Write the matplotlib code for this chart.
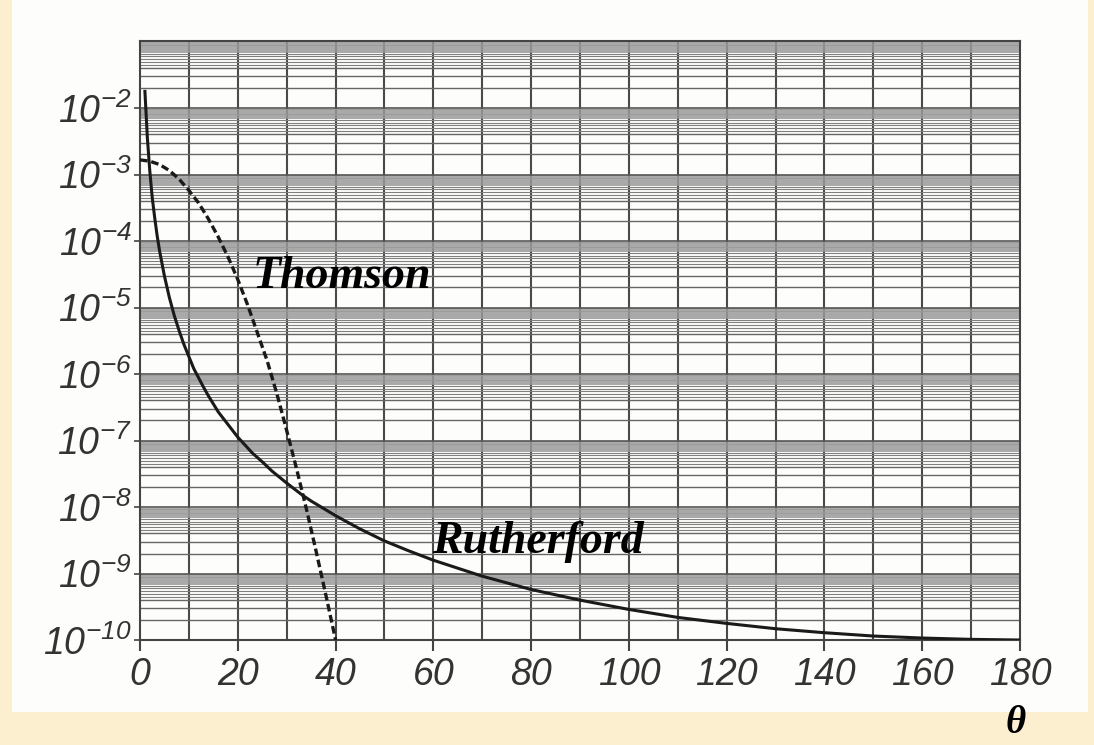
import numpy as np
import matplotlib.pyplot as plt
from matplotlib.patches import Rectangle

# Rutherford curve (angle in degrees, log10 of value)
theta_r = [1, 1.5, 2, 2.5, 3, 3.5, 4, 5, 6, 7, 8, 9, 10, 11, 12, 13, 14, 15,
           16, 18, 20, 23, 25, 27, 30, 33, 35, 40, 45, 50, 55, 60,
           70, 80, 90, 100, 110, 120, 130, 140, 150, 160, 170, 180]
logv_r = [-1.75, -2.45, -2.95, -3.35, -3.65, -3.92, -4.15, -4.53, -4.85, -5.12,
          -5.35, -5.56, -5.74, -5.92, -6.06, -6.20, -6.33, -6.45,
          -6.57, -6.76, -6.95, -7.19, -7.32, -7.46, -7.64, -7.81, -7.91, -8.13,
          -8.33, -8.51, -8.66, -8.80,
          -9.04, -9.24, -9.40, -9.54, -9.66, -9.75, -9.83, -9.89, -9.94, -9.97,
          -9.99, -10.0]

# Thomson curve (dashed)
theta_t = [0, 2, 4, 6, 8, 10, 12, 14, 16, 18, 20, 22, 24, 26, 28, 30, 32, 34,
           36, 38, 40]
logv_t = [-2.78, -2.80, -2.85, -2.94, -3.07, -3.24, -3.43, -3.67, -3.94, -4.24,
          -4.58, -4.96, -5.38, -5.80, -6.30, -6.85, -7.42, -8.02, -8.66, -9.32,
          -10.0]

y_exps = [-2, -3, -4, -5, -6, -7, -8, -9, -10]
x_ticks = [0, 20, 40, 60, 80, 100, 120, 140, 160, 180]

plt.rcParams['mathtext.fontset'] = 'custom'
plt.rcParams['mathtext.rm'] = 'Liberation Sans:italic'
plt.rcParams['mathtext.it'] = 'Liberation Sans:italic'

fig = plt.figure(figsize=(10.94, 7.45), dpi=100, facecolor='#FBEFCF')
# white scanned page
fig.patches.append(Rectangle((0.011, 0.0443), 0.9835, 0.96, transform=fig.transFigure,
                             facecolor='#FDFDFC', edgecolor='none', zorder=-5))

ax = fig.add_axes([0.128, 0.1409, 0.8044, 0.8034])
ax.set_facecolor('#FDFDFC')
ax.set_yscale('log')
ax.set_xlim(0, 180)
ax.set_ylim(1e-10, 1e-1)

# graph paper grid
for x in range(10, 180, 10):
    ax.axvline(x, color='#4a4a4a', linewidth=1.5, zorder=1)
for e in range(-10, -1):
    ax.axhline(10.0**e, color='#555555', linewidth=1.2, zorder=1)
    for s in [2, 3, 4]:
        ax.axhline(s * 10.0**e, color='#666666', linewidth=1.0, zorder=1)
    for s in [4.5, 5, 5.5, 6, 6.5]:
        ax.axhline(s * 10.0**e, color='#808080', linewidth=0.8, zorder=1)
    for s in np.arange(7, 10, 0.25):
        ax.axhline(s * 10.0**e, color='#999999', linewidth=0.6, zorder=1)

ax.plot(theta_r, 10.0**np.array(logv_r), color='#1a1a1a', linewidth=2.2, zorder=3)
ax.plot(theta_t, 10.0**np.array(logv_t), color='#1a1a1a', linewidth=2.4,
        dashes=(2.3, 1.1), zorder=3)

for sp in ax.spines.values():
    sp.set_color('#444444')
    sp.set_linewidth(1.5)

ax.set_yticks([10.0**e for e in y_exps], [r'$10^{%d}$' % e for e in y_exps])
ax.yaxis.set_minor_locator(plt.NullLocator())
ax.set_xticks(x_ticks, [str(v) for v in x_ticks])
ax.tick_params(axis='y', length=4, width=1.2, color='#444444', pad=2,
               labelsize=27, labelcolor='#333333')
ax.tick_params(axis='x', length=8, width=1.5, color='#444444', pad=4,
               labelsize=27, labelcolor='#333333')
for lab in ax.get_xticklabels():
    lab.set_family('Liberation Sans')
    lab.set_style('italic')

ax.text(23.1, 10**-4.71, 'Thomson', family='Liberation Serif', weight='bold',
        style='italic', fontsize=33, ha='left', va='baseline', zorder=4)
ax.text(59.7, 10**-8.69, 'Rutherford', family='Liberation Serif', weight='bold',
        style='italic', fontsize=33, ha='left', va='baseline', zorder=4)
fig.text(0.928, 0.029, 'θ', fontsize=28, ha='center', va='center',
         family='Liberation Serif', weight='bold', style='italic')

plt.savefig('out.png', dpi=100, facecolor=fig.get_facecolor())
